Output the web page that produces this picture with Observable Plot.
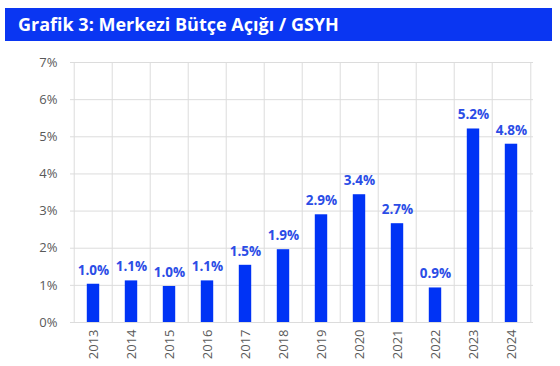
<!DOCTYPE html>
<html>
<head>
<meta charset="utf-8">
<script src="https://cdn.jsdelivr.net/npm/d3@7"></script>
<script src="https://cdn.jsdelivr.net/npm/@observablehq/plot@0.6"></script>
<style>
  html, body { margin: 0; padding: 0; background: #fff; }
  #wrap { width: 560px; height: 366px; position: relative; overflow: hidden; }
  #title { position: absolute; left: 5px; top: 8px; width: 547px; height: 33px; background: #0a36f2;
    color: #fff; font-family: "Open Sans", sans-serif; font-weight: 700; font-size: 18px; line-height: 33px;
    box-sizing: border-box; padding-left: 13px; }
  #chart { position: absolute; left: 0; top: 41px; }
</style>
</head>
<body>
<div id="wrap">
  <div id="title">Grafik 3: Merkezi Bütçe Açığı / GSYH</div>
  <div id="chart"></div>
</div>
<script>
const years = ["2013","2014","2015","2016","2017","2018","2019","2020","2021","2022","2023","2024"];
const values = [1.03, 1.12, 0.97, 1.12, 1.54, 1.96, 2.90, 3.44, 2.66, 0.93, 5.21, 4.80];
const labels = ["1.0%","1.1%","1.0%","1.1%","1.5%","1.9%","2.9%","3.4%","2.7%","0.9%","5.2%","4.8%"];
const yTicks = [0, 1, 2, 3, 4, 5, 6, 7];

const data = years.map((y, i) => ({year: y, value: values[i], label: labels[i]}));

const W = 560, mL = 70, mR = 27;
const step = (W - mL - mR) / years.length;
const barW = 13;
const inset = (step - barW) / 2;
const grid = "#dcdcdc";

const chart = Plot.plot({
  width: W,
  height: 325,
  marginTop: 21,
  marginBottom: 44,
  marginLeft: mL,
  marginRight: mR,
  style: {fontFamily: "'Open Sans', sans-serif", fontSize: "13px", color: "#595959", background: "transparent"},
  x: {domain: years, padding: 0, label: null, tickSize: 0, tickPadding: 7, tickRotate: -90},
  y: {domain: [0, 7], ticks: yTicks, tickFormat: d => d + "%", label: null, tickSize: 0, tickPadding: 13},
  marks: [
    Plot.ruleY(yTicks, {stroke: grid, strokeWidth: 1, strokeOpacity: 1}),
    Plot.ruleX(years, {x: d => d, dx: -step / 2, stroke: grid, strokeWidth: 1}),
    Plot.ruleX([years[years.length - 1]], {x: d => d, dx: step / 2, stroke: grid, strokeWidth: 1}),
    Plot.barY(data, {x: "year", y: "value", fill: "#0033f5", insetLeft: inset, insetRight: inset}),
    Plot.text(data, {x: "year", y: "value", text: "label", dy: -14, fill: "#2b4de6",
      fontWeight: "bold", fontSize: 13.5})
  ]
});
document.getElementById("chart").appendChild(chart);
</script>
</body>
</html>
